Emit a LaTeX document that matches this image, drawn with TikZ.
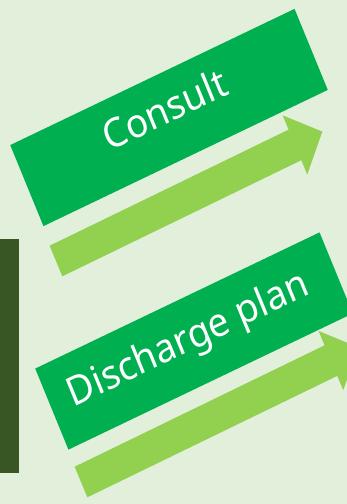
\documentclass[tikz,border=0pt]{standalone}
\usepackage{fontspec}
\setmainfont{Noto Sans}
\definecolor{paleground}{HTML}{E2EFDA}
\definecolor{darkbar}{HTML}{375623}
\definecolor{stepgreen}{HTML}{00B050}
\definecolor{arrowgreen}{HTML}{92D050}
\tikzset{
  stepbox/.style={fill=stepgreen, minimum width=311pt, minimum height=82pt, inner sep=0pt, transform shape},
  steplabel/.style={text=white, font=\fontsize{37}{44}\selectfont, anchor=base, inner sep=0pt, transform shape},
  flowarrow/.style={fill=arrowgreen}
}
\begin{document}
\begin{tikzpicture}[x=1pt, y=1pt]
            \useasboundingbox (0,0) rectangle (347,-504);
            \clip (0,0) rectangle (347,-504);
            \fill[paleground] (0,0) rectangle (347,-504);
            \fill[darkbar] (0,-239) rectangle (19,-473);
            \begin{scope}[shift={(169,-117.5)}, yscale=1.081, rotate=23.9]
            \node[stepbox] (consult) at (0,0) {};
            \node[steplabel] (consultlabel) at (-1,-5) {Consult};
            \end{scope}
            \begin{scope}[shift={(56,-261)}, yscale=1.081, rotate=24.2]
            \fill[flowarrow] (0,15.5) -- (262,15.5) -- (262,30) -- (292,0) -- (262,-30) -- (262,-15.5) -- (0,-15.5) -- cycle;
            \end{scope}
            \begin{scope}[shift={(194,-341)}, yscale=1.081, rotate=23.9]
            \node[stepbox] (discharge) at (0,0) {};
            \node[steplabel] (dischargelabel) at (-5,-7.5) {Discharge plan};
            \end{scope}
            \begin{scope}[shift={(81,-482)}, yscale=1.081, rotate=24.2]
            \fill[flowarrow] (0,15.5) -- (274,15.5) -- (274,30) -- (304,0) -- (274,-30) -- (274,-15.5) -- (0,-15.5) -- cycle;
            \end{scope}
            \end{tikzpicture}
\end{document}
